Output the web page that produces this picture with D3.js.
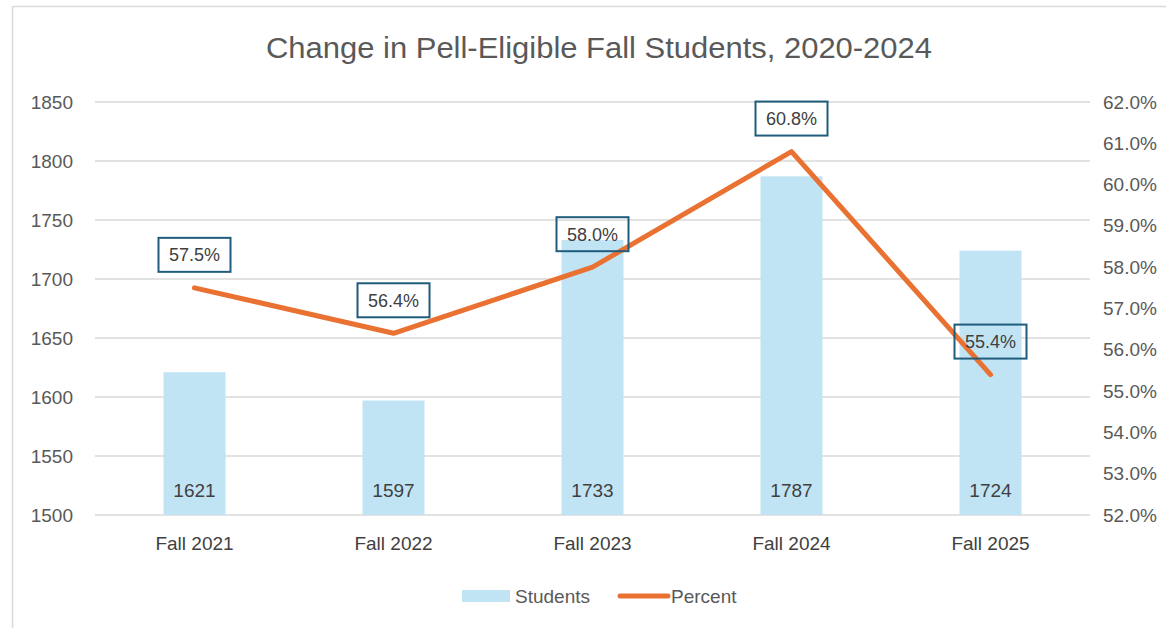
<!DOCTYPE html>
<html>
<head>
<meta charset="utf-8">
<script src="https://cdn.jsdelivr.net/npm/d3@7"></script>
<style>
  body { margin: 0; background: #fff; }
  text { font-family: "Liberation Sans", Arial, sans-serif; }
</style>
</head>
<body>
<div id="chart"></div>
<script>
// data
var categories = ["Fall 2021", "Fall 2022", "Fall 2023", "Fall 2024", "Fall 2025"];
var students = [1621, 1597, 1733, 1787, 1724];
var percents = [57.5, 56.4, 58.0, 60.8, 55.4];
var leftTicks = [1500, 1550, 1600, 1650, 1700, 1750, 1800, 1850];
var rightTicks = [52, 53, 54, 55, 56, 57, 58, 59, 60, 61, 62];

var width = 1166, height = 628;
var plot = {left: 95, right: 1090, top: 102, bottom: 515};

var svg = d3.select("#chart").append("svg")
	.attr("width", width).attr("height", height);

// chart frame
svg.append("rect").attr("x", 12.5).attr("y", 6.5)
	.attr("width", width).attr("height", height)
	.attr("fill", "none").attr("stroke", "#d9d9d9").attr("stroke-width", 1.5);

var x = d3.scaleBand().domain(categories).range([plot.left, plot.right]);
var yL = d3.scaleLinear().domain([1500, 1850]).range([plot.bottom, plot.top]);
var yR = d3.scaleLinear().domain([52, 62]).range([plot.bottom, plot.top]);

// title
var title = svg.append("text").attr("x", 599).attr("y", 58)
	.attr("text-anchor", "middle").attr("fill", "#595959")
	.style("font-family", "'Liberation Sans Narrow', 'Liberation Sans', sans-serif")
	.style("font-size", "29px")
	.text("Change in Pell-Eligible Fall Students, 2020-2024");
title.attr("textLength", 666).attr("lengthAdjust", "spacingAndGlyphs");

// gridlines
svg.append("g").selectAll("line").data(leftTicks).enter().append("line")
	.attr("x1", plot.left).attr("x2", plot.right)
	.attr("y1", function(d) { return yL(d); }).attr("y2", function(d) { return yL(d); })
	.attr("stroke", "#d9d9d9").attr("stroke-width", 1.5);

// left axis
var axL = svg.append("g").attr("transform", "translate(" + (plot.left - 22) + ",0)")
	.call(d3.axisLeft(yL).tickValues(leftTicks).tickSize(0).tickPadding(0).tickFormat(d3.format("d")));
axL.select(".domain").remove();
axL.selectAll("text").attr("fill", "#595959").style("font-size", "19px");

// right axis
var axR = svg.append("g").attr("transform", "translate(" + (plot.right + 13) + ",0)")
	.call(d3.axisRight(yR).tickValues(rightTicks).tickSize(0).tickPadding(0)
		.tickFormat(function(d) { return d3.format(".1f")(d) + "%"; }));
axR.select(".domain").remove();
axR.selectAll("text").attr("fill", "#595959").style("font-size", "19px");

// category axis
var axX = svg.append("g").attr("transform", "translate(0," + plot.bottom + ")")
	.call(d3.axisBottom(x).tickSize(0).tickPadding(22));
axX.select(".domain").remove();
axX.selectAll("text").attr("fill", "#404040").style("font-size", "19px");

// bars
var barW = 62;
svg.append("g").selectAll("rect").data(students).enter().append("rect")
	.attr("x", function(d, i) { return x(categories[i]) + x.bandwidth() / 2 - barW / 2; })
	.attr("y", function(d) { return yL(d); })
	.attr("width", barW)
	.attr("height", function(d) { return yL(1500) - yL(d); })
	.attr("fill", "#c1e4f5");

// bar value labels
svg.append("g").selectAll("text").data(students).enter().append("text")
	.attr("x", function(d, i) { return x(categories[i]) + x.bandwidth() / 2; })
	.attr("y", plot.bottom - 18)
	.attr("text-anchor", "middle").attr("fill", "#404040")
	.style("font-size", "19px")
	.text(function(d) { return d; });

// percent line
var line = d3.line()
	.x(function(d, i) { return x(categories[i]) + x.bandwidth() / 2; })
	.y(function(d) { return yR(d); });
svg.append("path").datum(percents).attr("d", line)
	.attr("fill", "none").attr("stroke", "#e97132").attr("stroke-width", 5)
	.attr("stroke-linejoin", "round").attr("stroke-linecap", "round");

// percent labels with boxes
var lab = svg.append("g").selectAll("g").data(percents).enter().append("g")
	.attr("transform", function(d, i) {
		return "translate(" + (x(categories[i]) + x.bandwidth() / 2) + "," + (yR(d) - 33) + ")";
	});
lab.append("rect").attr("x", -36).attr("y", -17).attr("width", 72).attr("height", 34)
	.attr("fill", "none").attr("stroke", "#1f5c7c").attr("stroke-width", 2);
lab.append("text").attr("text-anchor", "middle").attr("dy", "0.36em")
	.attr("fill", "#404040").style("font-size", "18px")
	.text(function(d) { return d3.format(".1f")(d) + "%"; });

// legend
var leg = svg.append("g").attr("transform", "translate(0,596)");
leg.append("rect").attr("x", 462).attr("y", -6).attr("width", 48).attr("height", 12).attr("fill", "#c1e4f5");
leg.append("text").attr("x", 515).attr("dy", "0.35em").attr("fill", "#595959")
	.style("font-size", "19px").text("Students");
leg.append("line").attr("x1", 620).attr("x2", 668).attr("y1", 0).attr("y2", 0)
	.attr("stroke", "#e97132").attr("stroke-width", 5).attr("stroke-linecap", "round");
leg.append("text").attr("x", 671).attr("dy", "0.35em").attr("fill", "#595959")
	.style("font-size", "19px").text("Percent");
</script>
</body>
</html>
